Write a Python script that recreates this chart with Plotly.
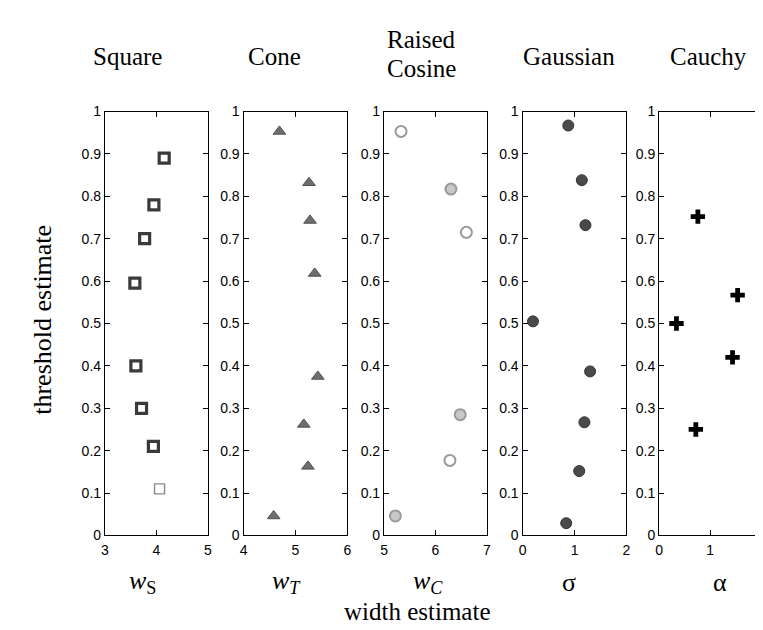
import plotly.graph_objects as go

W, H = 763, 630

# ---- data ----
panel_titles = [["Square"], ["Cone"], ["Raised", "Cosine"], ["Gaussian"], ["Cauchy"]]
x_labels = ["<i>w</i><sub>S</sub>", "<i>w</i><sub><i>T</i></sub>", "<i>w</i><sub><i>C</i></sub>", "σ", "α"]
x_ranges = [[3, 5], [4, 6], [5, 7], [0, 2], [0, 2]]
x_ticks = [[3, 4, 5], [4, 5, 6], [5, 6, 7], [0, 1, 2], [0, 1, 2]]

square_w = [4.15, 3.95, 3.77, 3.58, 3.60, 3.71, 3.94, 4.06]
square_t = [0.89, 0.78, 0.70, 0.595, 0.40, 0.30, 0.21, 0.11]

cone_w = [4.69, 5.26, 5.28, 5.37, 5.43, 5.16, 5.24, 4.58]
cone_t = [0.953, 0.832, 0.743, 0.618, 0.375, 0.262, 0.163, 0.046]

rcos_w = [5.33, 6.30, 6.60, 6.48, 6.28, 5.22]
rcos_t = [0.953, 0.817, 0.715, 0.285, 0.177, 0.046]

gauss_s = [0.88, 1.14, 1.21, 0.20, 1.30, 1.19, 1.09, 0.84]
gauss_t = [0.967, 0.838, 0.732, 0.505, 0.387, 0.267, 0.152, 0.029]

cauchy_a = [0.76, 1.54, 0.34, 1.44, 0.72]
cauchy_t = [0.752, 0.567, 0.50, 0.42, 0.25]

y_tickvals = [0, 0.1, 0.2, 0.3, 0.4, 0.5, 0.6, 0.7, 0.8, 0.9, 1]
y_ticktext = ["0", "0.1", "0.2", "0.3", "0.4", "0.5", "0.6", "0.7", "0.8", "0.9", "1"]

# ---- layout geometry (pixels) ----
panel_px = [(94, 198), (234, 339), (376, 480), (516, 621), (654, 757)]
y0_px, y1_px = 533, 98
title_x_px = [117, 265, 414, 563, 704]
xlabel_x_px = [132, 277, 420, 563, 715]

fig = go.Figure()

series = [
    (square_w, square_t, dict(symbol="square-open", size=10,
                              color=["#3a3a3a"] * 7 + ["#8a8a8a"],
                              line=dict(width=[3.2] * 7 + [1.4]))),
    (cone_w, cone_t, dict(symbol="triangle-up", size=11, color="#6e6e6e",
                          line=dict(width=1, color="#505050"))),
    (rcos_w, rcos_t, dict(symbol="circle", size=11,
                          color=["white", "#c8c8c8", "white", "#c8c8c8", "white", "#c8c8c8"],
                          line=dict(width=2, color="#9a9a9a"))),
    (gauss_s, gauss_t, dict(symbol="circle", size=11, color="#4a4a4a",
                            line=dict(width=1, color="#333333"))),
    (cauchy_a, cauchy_t, dict(symbol="cross", size=12, color="black",
                              line=dict(width=0))),
]

for i, (xs, ys, mk) in enumerate(series):
    sfx = "" if i == 0 else str(i + 1)
    fig.add_trace(go.Scatter(x=xs, y=ys, mode="markers", marker=mk,
                             xaxis="x" + sfx, yaxis="y" + sfx, showlegend=False))

axis_common = dict(showgrid=False, zeroline=False, showline=True, linecolor="black",
                   linewidth=1.3, mirror="ticks", ticks="inside", ticklen=5,
                   tickcolor="black", tickfont=dict(family="Liberation Sans", size=14, color="black"))

layout = dict(width=W, height=H, margin=dict(l=0, r=0, t=0, b=0),
              paper_bgcolor="white", plot_bgcolor="white", showlegend=False)

ydom = [1 - y0_px / H, 1 - y1_px / H]
for i in range(5):
    sfx = "" if i == 0 else str(i + 1)
    xd = [panel_px[i][0] / W, panel_px[i][1] / W]
    layout["xaxis" + sfx] = dict(domain=xd, range=x_ranges[i], tickvals=x_ticks[i],
                                 anchor="y" + sfx, ticklabelstandoff=2, **axis_common)
    layout["yaxis" + sfx] = dict(domain=ydom, range=[0, 1], tickvals=y_tickvals,
                                 ticktext=y_ticktext, anchor="x" + sfx, **axis_common)

fig.update_layout(**layout)

serif = "Liberation Serif"
ann = []
for i in range(5):
    lines = panel_titles[i]
    ys = [42] if len(lines) == 1 else [24, 54]
    for txt, yc in zip(lines, ys):
        ann.append(dict(text=txt, x=title_x_px[i] / W, y=1 - yc / H,
                        xref="paper", yref="paper", showarrow=False,
                        font=dict(family=serif, size=25, color="black"),
                        xanchor="center", yanchor="middle"))
    ann.append(dict(text=x_labels[i], x=xlabel_x_px[i] / W, y=1 - 581 / H,
                    xref="paper", yref="paper", showarrow=False,
                    font=dict(family=serif, size=26, color="black"),
                    xanchor="center", yanchor="middle"))
ann.append(dict(text="width estimate", x=410 / W, y=1 - 611 / H, xref="paper", yref="paper",
                showarrow=False, font=dict(family=serif, size=25, color="black"),
                xanchor="center", yanchor="middle"))
ann.append(dict(text="threshold estimate", x=30 / W, y=1 - 312 / H, xref="paper", yref="paper",
                showarrow=False, textangle=-90, font=dict(family=serif, size=26, color="black"),
                xanchor="center", yanchor="middle"))
fig.update_layout(annotations=ann)

fig.write_html("out.html")
